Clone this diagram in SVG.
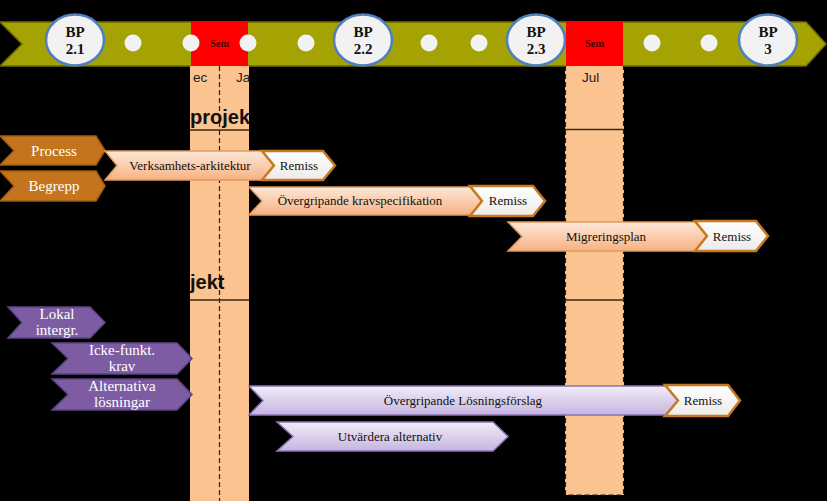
<svg xmlns="http://www.w3.org/2000/svg" width="827" height="501" viewBox="0 0 827 501">
<defs>
<linearGradient id="peach" x1="0" y1="0" x2="0" y2="1">
<stop offset="0" stop-color="#fde8d8"/><stop offset="1" stop-color="#f6b283"/>
</linearGradient>
<linearGradient id="lav" x1="0" y1="0" x2="0" y2="1">
<stop offset="0" stop-color="#f1edf8"/><stop offset="1" stop-color="#c6b5e0"/>
</linearGradient>
<linearGradient id="rem" x1="0" y1="0" x2="0" y2="1">
<stop offset="0" stop-color="#ffffff"/><stop offset="1" stop-color="#ecebe9"/>
</linearGradient>
<style>
.bp{fill:#f2f2f2;stroke:#4f7fbd;stroke-width:2.5}
.bpt{font-family:"Liberation Serif",serif;font-weight:bold;font-size:15px;fill:#111;text-anchor:middle}
.dot{fill:#f2f2f2}
.sem{fill:#ff0000}
.semt{font-family:"Liberation Serif",serif;font-weight:bold;font-size:10.5px;fill:#4a0000;text-anchor:middle}
.col{fill:#fac38f}
.mon{font-family:"Liberation Sans",sans-serif;font-size:13.5px;fill:#222}
.big{font-family:"Liberation Sans",sans-serif;font-weight:bold;font-size:20px;fill:#111}
.hl{stroke:#3a2a12;stroke-width:1.5}
.dash{stroke:#222;stroke-width:1.2;stroke-dasharray:5 3;fill:none}
.brown{fill:#c4741c;stroke:#a35c0e;stroke-width:1.5}
.purple{fill:#7d5ca4;stroke:#5e4585;stroke-width:1.5}
.pch{fill:url(#peach);stroke:#e09a5c;stroke-width:1.5}
.lv{fill:url(#lav);stroke:#8d73b6;stroke-width:1.5}
.rm{fill:url(#rem);stroke:#c8781e;stroke-width:2.5}
.wt{font-family:"Liberation Serif",serif;font-size:15px;fill:#fff;text-anchor:middle}
.bt{font-family:"Liberation Serif",serif;font-size:13px;fill:#111;text-anchor:middle}
</style>
</defs>
<rect width="827" height="501" fill="#000"/>

<g id="timeline">
<path d="M0 22 L806 22 L826 44 L806 66 L0 66 L22 44 Z" fill="#a5a204" stroke="#6f6d00" stroke-width="1.5"/>
</g>

<g id="columns">
<rect class="col" x="190" y="66" width="59" height="435"/>
<line class="dash" x1="219.5" y1="66" x2="219.5" y2="501"/>
<rect class="col" x="565" y="66" width="59" height="429"/>
<path class="dash" d="M565.5 66 V495 H623.5 V66"/>
<line class="hl" x1="190" y1="130" x2="249" y2="130"/>
<line class="hl" x1="190" y1="300" x2="249" y2="300"/>
<line class="hl" x1="565" y1="129.5" x2="624" y2="129.5"/>
<line class="hl" x1="565" y1="300" x2="624" y2="300"/>
<text class="mon" x="193" y="82">ec</text>
<text class="mon" x="236" y="82">Ja</text>
<text class="mon" x="582" y="82">Jul</text>
<text class="big" x="190" y="124">projek</text>
<text class="big" x="190" y="289">jekt</text>
</g>

<g id="sem1"><rect class="sem" x="191" y="22" width="57" height="44"/><text class="semt" x="219.5" y="47">Sem</text></g>
<g id="sem2"><rect class="sem" x="566" y="22" width="57" height="44"/><text class="semt" x="594.5" y="47">Sem</text></g>

<g id="dots">
<circle class="dot" cx="133" cy="43" r="8.5"/>
<circle class="dot" cx="191" cy="43" r="8.5"/>
<circle class="dot" cx="248" cy="43" r="8.5"/>
<circle class="dot" cx="306" cy="43" r="8.5"/>
<circle class="dot" cx="429" cy="43" r="8.5"/>
<circle class="dot" cx="479" cy="43" r="8.5"/>
<circle class="dot" cx="652" cy="43" r="8.5"/>
<circle class="dot" cx="709" cy="43" r="8.5"/>
</g>

<g id="bp21"><ellipse class="bp" cx="75" cy="40" rx="29" ry="25.5"/><text class="bpt" x="75" y="37">BP</text><text class="bpt" x="75" y="54">2.1</text></g>
<g id="bp22"><ellipse class="bp" cx="363" cy="40" rx="29" ry="25.5"/><text class="bpt" x="363" y="37">BP</text><text class="bpt" x="363" y="54">2.2</text></g>
<g id="bp23"><ellipse class="bp" cx="536" cy="40" rx="29" ry="25.5"/><text class="bpt" x="536" y="37">BP</text><text class="bpt" x="536" y="54">2.3</text></g>
<g id="bp3"><ellipse class="bp" cx="768" cy="40" rx="29" ry="25.5"/><text class="bpt" x="768" y="37">BP</text><text class="bpt" x="768" y="54">3</text></g>

<g id="process"><path class="brown" d="M0 136 L96 136 L105 150.5 L96 165 L0 165 L14 150.5 Z"/><text class="wt" x="54" y="156">Process</text></g>
<g id="begrepp"><path class="brown" d="M0 171 L96 171 L105 186 L96 201 L0 201 L14 186 Z"/><text class="wt" x="54" y="191">Begrepp</text></g>

<g id="verksamhet"><path class="pch" d="M105 151 L266 151 L278 165.5 L266 180 L105 180 L117 165.5 Z"/><text class="bt" x="190" y="170">Verksamhets-arkitektur</text></g>
<g id="remiss1"><path class="rm" d="M262 151 L323 151 L335 165.5 L323 180 L262 180 L274 165.5 Z"/><text class="bt" x="299" y="170">Remiss</text></g>

<g id="krav"><path class="pch" d="M249 187 L470 187 L482 201 L470 215 L249 215 L262 201 Z"/><text class="bt" x="360" y="205">Övergripande kravspecifikation</text></g>
<g id="remiss2"><path class="rm" d="M470 186 L533 186 L545 201 L533 216 L470 216 L482 201 Z"/><text class="bt" x="508" y="205">Remiss</text></g>

<g id="migrering"><path class="pch" d="M508 222 L695 222 L707 236.5 L695 251 L508 251 L522 236.5 Z"/><text class="bt" x="606" y="241">Migreringsplan</text></g>
<g id="remiss3"><path class="rm" d="M695 221 L756 221 L768 236 L756 251 L695 251 L707 236 Z"/><text class="bt" x="732" y="241">Remiss</text></g>

<g id="lokal"><path class="purple" d="M8 307 L90 307 L105 322.5 L90 338 L8 338 L22 322.5 Z"/><text class="wt" x="57" y="319">Lokal</text><text class="wt" x="57" y="335">intergr.</text></g>
<g id="icke"><path class="purple" d="M52 343 L177 343 L192 358.5 L177 374 L52 374 L68 358.5 Z"/><text class="wt" x="122" y="355">Icke-funkt.</text><text class="wt" x="122" y="371">krav</text></g>
<g id="alternativa"><path class="purple" d="M52 379 L177 379 L192 394.5 L177 410 L52 410 L68 394.5 Z"/><text class="wt" x="122" y="391">Alternativa</text><text class="wt" x="122" y="407">lösningar</text></g>

<g id="losning"><path class="lv" d="M249 386 L668 386 L680 400.5 L668 415 L249 415 L263 400.5 Z"/><text class="bt" x="463" y="405">Övergripande Lösningsförslag</text></g>
<g id="remiss4"><path class="rm" d="M665 385 L728 385 L740 400.5 L728 416 L665 416 L678 400.5 Z"/><text class="bt" x="703" y="405">Remiss</text></g>

<g id="utvardera"><path class="lv" d="M277 422 L493 422 L508 436.5 L493 451 L277 451 L293 436.5 Z"/><text class="bt" x="390" y="441">Utvärdera alternativ</text></g>

<g id="connectors"></g>
</svg>
